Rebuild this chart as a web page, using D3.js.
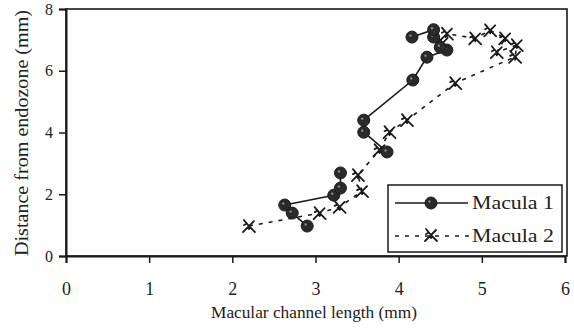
<!DOCTYPE html>
<html><head><meta charset="utf-8">
<script src="https://cdn.jsdelivr.net/npm/d3@7"></script>
<style>
html,body{margin:0;padding:0;background:#fff;}
svg text{font-family:"Liberation Serif","DejaVu Serif",serif;fill:#222;}
</style></head>
<body>
<svg id="chart" width="574" height="329"></svg>
<script>
const xTicks = [0, 1, 2, 3, 4, 5, 6];
const yTicks = [0, 2, 4, 6, 8];
const seriesNames = ["Macula 1", "Macula 2"];
const macula1X = [2.90, 2.72, 2.63, 3.22, 3.30, 3.30, 3.86, 3.58, 3.58, 4.17, 4.34, 4.58, 4.50, 4.42, 4.42, 4.16];
const macula1Y = [0.97, 1.39, 1.65, 1.97, 2.20, 2.69, 3.37, 4.01, 4.40, 5.70, 6.44, 6.67, 6.76, 7.09, 7.33, 7.09];
const macula2X = [2.20, 3.05, 3.29, 3.56, 3.51, 3.77, 3.89, 4.10, 4.68, 5.40, 5.42, 5.18, 5.28, 5.10, 4.92, 4.58, 4.53];
const macula2Y = [0.97, 1.39, 1.59, 2.10, 2.62, 3.43, 4.01, 4.40, 5.60, 6.45, 6.83, 6.60, 7.05, 7.31, 7.05, 7.20, 6.90];
const xTitle = "Macular channel length (mm)";
const yTitle = "Distance from endozone (mm)";

const svg = d3.select("#chart");
const m = {left: 66, right: 567, top: 9, bottom: 256};
const x = d3.scaleLinear().domain([0, 6]).range([m.left, 565]);
const y = d3.scaleLinear().domain([0, 8]).range([m.bottom, m.top]);
const ink = "#1a1a1a";

// frame
svg.append("rect").attr("x", m.left).attr("y", m.top)
  .attr("width", m.right - m.left).attr("height", m.bottom - m.top)
  .attr("fill", "none").attr("stroke", ink).attr("stroke-width", 1.6);

const xa = svg.append("g").attr("transform", `translate(0,${m.bottom})`)
  .call(d3.axisBottom(x).tickValues(xTicks).tickSize(7).tickPadding(19).tickFormat(d3.format("d")));
const ya = svg.append("g").attr("transform", `translate(${m.left},0)`)
  .call(d3.axisLeft(y).tickValues(yTicks).tickSize(7).tickPadding(6).tickFormat(d3.format("d")));
[xa, ya].forEach(a => {
  a.select(".domain").attr("stroke", ink).attr("stroke-width", 2);
  a.selectAll(".tick line").attr("stroke", ink).attr("stroke-width", 1.5);
  a.selectAll("text").attr("fill", "#222")
    .style("font-family", '"Liberation Serif", serif');
});
xa.selectAll("text").attr("font-size", 18);
ya.selectAll("text").attr("font-size", 16);

// series lines
const d1 = macula1X.map((v, i) => [v, macula1Y[i]]);
const d2 = macula2X.map((v, i) => [v, macula2Y[i]]);
const line = d3.line().x(d => x(d[0])).y(d => y(d[1]));

svg.append("path").datum(d2).attr("d", line).attr("fill", "none")
  .attr("stroke", ink).attr("stroke-width", 1.6).attr("stroke-dasharray", "4,6");
svg.append("path").datum(d1.slice(0, 6)).attr("d", line).attr("fill", "none")
  .attr("stroke", ink).attr("stroke-width", 1.6);
svg.append("path").datum(d1.slice(6)).attr("d", line).attr("fill", "none")
  .attr("stroke", ink).attr("stroke-width", 1.6);

const starPath = "M-6,6 L0,0 L6,6 M0,0 L-5,-6 M0,0 L5,-5 M-3,-2 L-5,-1 M0,0 L0,3";
function star(g, px, py) {
  g.append("path").attr("d", starPath).attr("transform", `translate(${px},${py})`)
    .attr("fill", "none").attr("stroke", ink).attr("stroke-width", 1.8).attr("stroke-linecap", "round");
}
function dot(g, px, py) {
  g.append("circle").attr("cx", px).attr("cy", py).attr("r", 6)
    .attr("fill", "#2a2a2a").attr("stroke", ink).attr("stroke-width", 1);
  g.append("circle").attr("cx", px - 1.5).attr("cy", py - 1.5).attr("r", 1.2).attr("fill", "#888");
}
const g2 = svg.append("g");
d2.forEach(d => star(g2, x(d[0]), y(d[1])));
const g1 = svg.append("g");
d1.forEach(d => dot(g1, x(d[0]), y(d[1])));

// legend
const lg = svg.append("g");
lg.append("rect").attr("x", 388).attr("y", 185).attr("width", 174).attr("height", 67)
  .attr("fill", "#fff").attr("stroke", ink).attr("stroke-width", 1.5);
lg.append("line").attr("x1", 395).attr("x2", 468).attr("y1", 203).attr("y2", 203)
  .attr("stroke", ink).attr("stroke-width", 1.6);
dot(lg, 431, 203);
lg.append("line").attr("x1", 395).attr("x2", 470).attr("y1", 236).attr("y2", 236)
  .attr("stroke", ink).attr("stroke-width", 1.6).attr("stroke-dasharray", "4,6");
star(lg, 431, 235);
lg.selectAll("text.lab").data(seriesNames).join("text")
  .attr("x", 472).attr("y", (d, i) => 209 + i * 33)
  .attr("font-size", 19).attr("textLength", 82).attr("lengthAdjust", "spacingAndGlyphs")
  .text(d => d);

// titles
svg.append("text").attr("x", 314).attr("y", 318).attr("text-anchor", "middle")
  .attr("font-size", 17).attr("textLength", 206).attr("lengthAdjust", "spacingAndGlyphs")
  .text(xTitle);
svg.append("text").attr("transform", "translate(28,133) rotate(-90)")
  .attr("text-anchor", "middle").attr("font-size", 18)
  .attr("textLength", 246).attr("lengthAdjust", "spacingAndGlyphs").text(yTitle);
</script>
</body></html>
